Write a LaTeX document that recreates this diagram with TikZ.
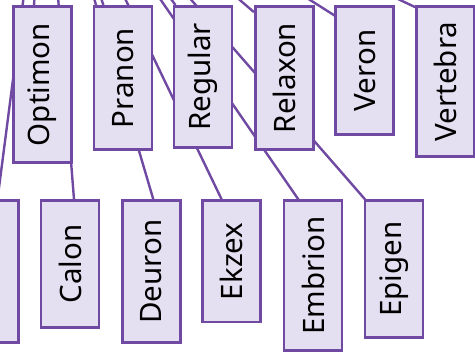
\documentclass[tikz,border=0pt]{standalone}
\usepackage{fontspec}
\setmainfont{Noto Sans}
\usepackage{graphicx}
\usetikzlibrary{backgrounds}
\definecolor{boxline}{RGB}{112,74,162}
\definecolor{boxfill}{RGB}{229,224,241}
\tikzset{
  item/.style={draw=boxline, fill=boxfill, line width=2.6pt, inner sep=0pt,
    minimum width=58pt, anchor=north, font=\fontsize{29.5}{35}\selectfont},
  link/.style={draw=boxline, line width=2.4pt},
}
\newcommand{\upright}[1]{\rotatebox{90}{#1}}
\begin{document}
\begin{tikzpicture}[x=1pt, y=-1pt]
\path[use as bounding box] (0,0) rectangle (475,354);
% common parent, above the visible area
\coordinate (root) at (45,-168);
% upper row
\node[item, minimum height=156.4pt] (optimon)  at (42.3,5) {\upright{Optimon}};
\node[item, minimum height=143.4pt] (pranon)   at (123,5)  {\upright{Pranon}};
\node[item, minimum height=141.4pt] (regular)  at (202.8,5) {\upright{Regular}};
\node[item, minimum height=143.4pt] (relaxon)  at (284.2,5) {\upright{Relaxon}};
\node[item, minimum height=128.4pt] (veron)    at (364.7,5) {\upright{Veron}};
\node[item, minimum height=150.4pt] (vertebra) at (445.4,5) {\upright{Vertebra}};
% lower row
\node[item, minimum height=142.1pt] (first)    at (-10.3,199.3) {};
\node[item, minimum height=126.8pt] (calon)    at (70,199.3)    {\upright{Calon}};
\node[item, minimum height=142.1pt] (deuron)   at (151.2,199.3) {\upright{Deuron}};
\node[item, minimum height=121.4pt] (ekzex)    at (231.6,199.3) {\upright{Ekzex}};
\node[item, minimum height=149.8pt] (embrion)  at (313,199.3)   {\upright{Embrion}};
\node[item, minimum height=137.1pt] (epigen)   at (394,199.3)   {\upright{Epigen}};
% connectors run behind the boxes
\begin{pgfonlayer}{background}
\clip (0,0) rectangle (475,354);
\draw[link] (root) -- ([xshift=-8.3pt]optimon.north);
\draw[link] (root) -- ([xshift=-19.6pt]pranon.north);
\draw[link] (root) -- ([xshift=-27.3pt]regular.north);
\draw[link] (root) -- ([yshift=-7.1pt]relaxon.north west);
\draw[link] (root) -- ([yshift=-10.4pt]veron.north west);
\draw[link] (root) -- ([yshift=-2.1pt]vertebra.north west);
\draw[link] (root) -- ([xshift=7.8pt]first.north);
\draw[link] (root) -- ([xshift=4pt]calon.north);
\draw[link] (root) -- ([xshift=2.1pt]deuron.north);
\draw[link] (root) -- ([xshift=-10pt]ekzex.north);
\draw[link] (root) -- ([xshift=-14.7pt]embrion.north);
\draw[link] (root) -- ([xshift=-29pt]epigen.north);
\end{pgfonlayer}
\end{tikzpicture}
\end{document}
